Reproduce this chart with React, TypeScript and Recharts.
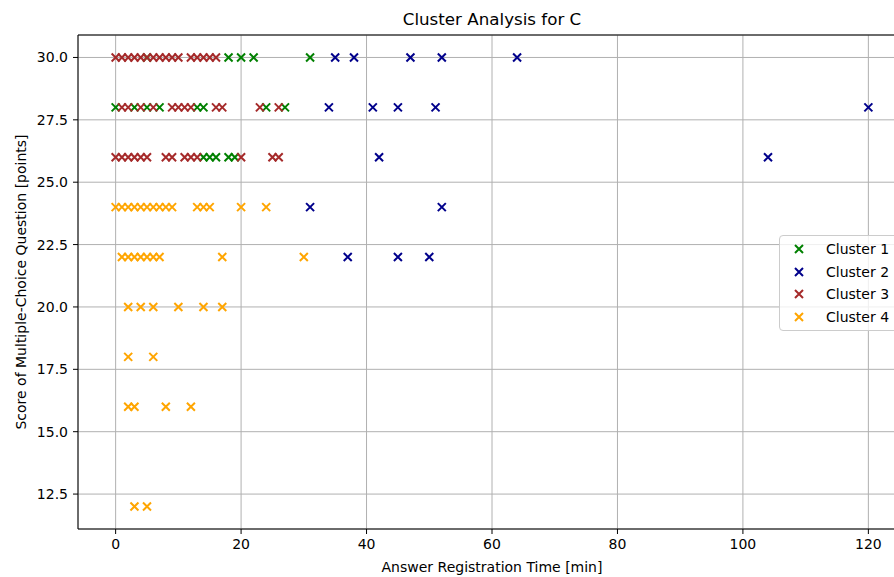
import { ScatterChart, Scatter, XAxis, YAxis, CartesianGrid, Legend, ReferenceLine } from 'recharts';

const X_DOMAIN = [-6, 126];
const Y_DOMAIN = [11.1, 30.9];
const X_TICKS = [0, 20, 40, 60, 80, 100, 120];
const Y_TICKS = [12.5, 15, 17.5, 20, 22.5, 25, 27.5, 30];

const CLUSTER_NAMES = ['Cluster 1', 'Cluster 2', 'Cluster 3', 'Cluster 4'];
const CLUSTER_COLORS = ['green', 'darkblue', 'brown', 'orange'];

// [answer time in min, score in points]
const cluster1 = [
  [5, 30], [18, 30], [20, 30], [22, 30], [31, 30],
  [0, 28], [3, 28], [5, 28], [7, 28], [13, 28], [14, 28], [24, 28], [27, 28],
  [14, 26], [15, 26], [16, 26], [18, 26], [19, 26],
];

const cluster2 = [
  [35, 30], [38, 30], [47, 30], [52, 30], [64, 30],
  [34, 28], [41, 28], [45, 28], [51, 28], [120, 28],
  [42, 26], [104, 26],
  [31, 24], [52, 24],
  [37, 22], [45, 22], [50, 22],
];

const cluster3 = [
  [0, 30], [1, 30], [2, 30], [3, 30], [4, 30], [5, 30], [6, 30], [7, 30], [8, 30], [9, 30], [10, 30],
  [12, 30], [13, 30], [14, 30], [15, 30], [16, 30],
  [1, 28], [2, 28], [4, 28], [6, 28], [9, 28], [10, 28], [11, 28], [12, 28], [16, 28], [17, 28], [23, 28], [26, 28],
  [0, 26], [1, 26], [2, 26], [3, 26], [4, 26], [5, 26], [8, 26], [9, 26], [11, 26], [12, 26], [13, 26],
  [20, 26], [25, 26], [26, 26],
];

const cluster4 = [
  [0, 24], [1, 24], [2, 24], [3, 24], [4, 24], [5, 24], [6, 24], [7, 24], [8, 24], [9, 24],
  [13, 24], [14, 24], [15, 24], [20, 24], [24, 24],
  [1, 22], [2, 22], [3, 22], [4, 22], [5, 22], [6, 22], [7, 22], [17, 22], [30, 22],
  [2, 20], [4, 20], [6, 20], [10, 20], [14, 20], [17, 20],
  [2, 18], [6, 18],
  [2, 16], [3, 16], [8, 16], [12, 16],
  [3, 12], [5, 12],
];

const CLUSTERS = [cluster1, cluster2, cluster3, cluster4];

const FONT = '"DejaVu Sans", sans-serif';

function Cross({ cx, cy, color }: { cx?: number; cy?: number; color: string }) {
  if (cx == null || cy == null) return null;
  const r = 4;
  return (
    <path
      d={`M${cx - r},${cy - r}L${cx + r},${cy + r}M${cx - r},${cy + r}L${cx + r},${cy - r}`}
      stroke={color}
      strokeWidth={2}
      fill="none"
    />
  );
}

function LegendBox() {
  return (
    <div
      style={{
        width: 120,
        padding: '2px 0',
        border: '1px solid #cccccc',
        borderRadius: 4,
        background: 'rgba(255,255,255,0.8)',
        fontFamily: FONT,
        fontSize: 14,
        color: '#000',
      }}
    >
      {CLUSTER_NAMES.map((name, i) => (
        <div key={name} style={{ display: 'flex', alignItems: 'center', height: 22.6 }}>
          <svg width={16} height={16} style={{ marginLeft: 11, marginRight: 19 }}>
            <Cross cx={8} cy={8} color={CLUSTER_COLORS[i]} />
          </svg>
          <span>{name}</span>
        </div>
      ))}
    </div>
  );
}

export default function App() {
  return (
    <div style={{ position: 'absolute', left: 0, top: 0, width: 894, height: 577, overflow: 'hidden', background: '#fff' }}>
      <ScatterChart width={920} height={577} margin={{ top: 35, right: 14, bottom: 0, left: 0 }}>
        <CartesianGrid stroke="#b0b0b0" strokeWidth={1} />
        <XAxis
          type="number"
          dataKey="x"
          domain={X_DOMAIN}
          ticks={X_TICKS}
          interval={0}
          allowDataOverflow
          height={48}
          tickSize={5}
          tickMargin={5}
          stroke="#000"
          tick={{ fill: '#000', fontSize: 14, fontFamily: FONT }}
        />
        <YAxis
          type="number"
          dataKey="y"
          domain={Y_DOMAIN}
          ticks={Y_TICKS}
          interval={0}
          allowDataOverflow
          width={78}
          tickSize={5}
          tickMargin={5}
          stroke="#000"
          tickFormatter={(v: number) => v.toFixed(1)}
          tick={{ fill: '#000', fontSize: 14, fontFamily: FONT }}
        />
        <ReferenceLine y={Y_DOMAIN[1]} stroke="#000" strokeWidth={1} />
        <ReferenceLine x={X_DOMAIN[1]} stroke="#000" strokeWidth={1} />
        {CLUSTERS.map((pts, i) => (
          <Scatter
            key={CLUSTER_NAMES[i]}
            name={CLUSTER_NAMES[i]}
            data={pts.map(([x, y]) => ({ x, y }))}
            fill={CLUSTER_COLORS[i]}
            isAnimationActive={false}
            shape={(p: any) => <Cross cx={p.cx} cy={p.cy} color={CLUSTER_COLORS[i]} />}
          />
        ))}
        <Legend
          layout="vertical"
          align="center"
          verticalAlign="middle"
          content={() => <LegendBox />}
          wrapperStyle={{ position: 'absolute', left: 779, top: 235, width: 'auto', height: 'auto' }}
        />
      </ScatterChart>
      <svg
        width={894}
        height={577}
        style={{ position: 'absolute', left: 0, top: 0, pointerEvents: 'none' }}
        fontFamily={FONT}
      >
        <text x={492} y={25} textAnchor="middle" fontSize={16.7} fill="#000">
          Cluster Analysis for C
        </text>
        <text x={492} y={571.5} textAnchor="middle" fontSize={14} fill="#000">
          Answer Registration Time [min]
        </text>
        <text x={26} y={282} textAnchor="middle" fontSize={14} fill="#000" transform="rotate(-90 26 282)">
          Score of Multiple-Choice Question [points]
        </text>
      </svg>
    </div>
  );
}
